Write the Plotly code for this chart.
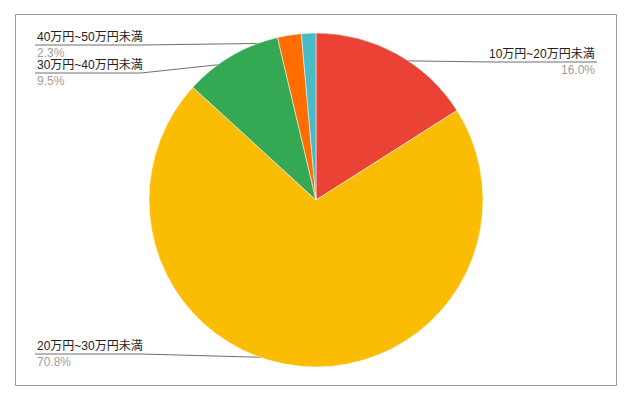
import math
import plotly.graph_objects as go

categories = ["10万円~20万円未満", "20万円~30万円未満", "30万円~40万円未満", "40万円~50万円未満", "50万円以上"]
values = [16.0, 70.8, 9.5, 2.3, 1.4]
pct_labels = ["16.0%", "70.8%", "9.5%", "2.3%", ""]
colors = ["#EA4335", "#FBBC04", "#34A853", "#FF6D01", "#46BDC6"]

# layout constants (screen pixels); page body adds an 8px offset
W, H = 636, 400
OFF = 8
CX, CY, R = 316, 200, 167
DOT_R = 159
label_side = ["right", "left", "left", "left", None]
label_line_y = [62, 354, 73, 45, None]
TEXT_W = 106
LEFT_X = 35
RIGHT_X = 597
FONT = "Liberation Sans, Arial, Noto Sans CJK JP"

fig = go.Figure()
fig.add_trace(go.Pie(
    labels=categories, values=values, sort=False, direction="clockwise",
    rotation=0, marker=dict(colors=colors, line=dict(color="white", width=0.5)),
    textinfo="none", hoverinfo="label+percent", showlegend=False,
    domain=dict(x=[(CX - OFF - R) / W, (CX - OFF + R) / W],
                y=[1 - (CY - OFF + R) / H, 1 - (CY - OFF - R) / H]),
))

total = sum(values)
cum = 0.0
annotations = []
for i, v in enumerate(values):
    mid = (cum + v / 2) / total
    cum += v
    if label_side[i] is None:
        continue
    ang = 2 * math.pi * mid
    dx = CX + DOT_R * math.sin(ang)
    dy = CY - DOT_R * math.cos(ang)
    ly = label_line_y[i]
    if label_side[i] == "left":
        xs = [LEFT_X, LEFT_X + TEXT_W, dx]
        tx, anchor = LEFT_X, "left"
    else:
        xs = [RIGHT_X, RIGHT_X - TEXT_W, dx]
        tx, anchor = RIGHT_X, "right"
    ys = [ly, ly, dy]
    fig.add_trace(go.Scatter(x=xs, y=ys, mode="lines", line=dict(color="#6f6f6f", width=1),
                             hoverinfo="skip", showlegend=False))
    fig.add_trace(go.Scatter(x=[dx], y=[dy], mode="markers",
                             marker=dict(color="#a0a0a0", size=4), hoverinfo="skip", showlegend=False))
    annotations.append(dict(x=tx, y=ly - 8, xref="x", yref="y", text=categories[i], showarrow=False,
                            xanchor=anchor, yanchor="middle",
                            font=dict(family=FONT, size=12, color="#222222")))
    annotations.append(dict(x=tx, y=ly + 8, xref="x", yref="y", text=pct_labels[i], showarrow=False,
                            xanchor=anchor, yanchor="middle",
                            font=dict(family=FONT, size=12, color="#9e9e9e")))

fig.update_layout(
    width=W, height=H, margin=dict(l=0, r=0, t=0, b=0),
    paper_bgcolor="white", plot_bgcolor="rgba(0,0,0,0)",
    xaxis=dict(range=[OFF, W + OFF], visible=False, domain=[0, 1], fixedrange=True),
    yaxis=dict(range=[H + OFF, OFF], visible=False, domain=[0, 1], fixedrange=True),
    annotations=annotations,
    shapes=[dict(type="rect", xref="x", yref="y", x0=15.5, x1=616.5, y0=14.5, y1=385.5,
                 line=dict(color="#9a9a9a", width=1), layer="below")],
)

fig.write_html("out.html")
